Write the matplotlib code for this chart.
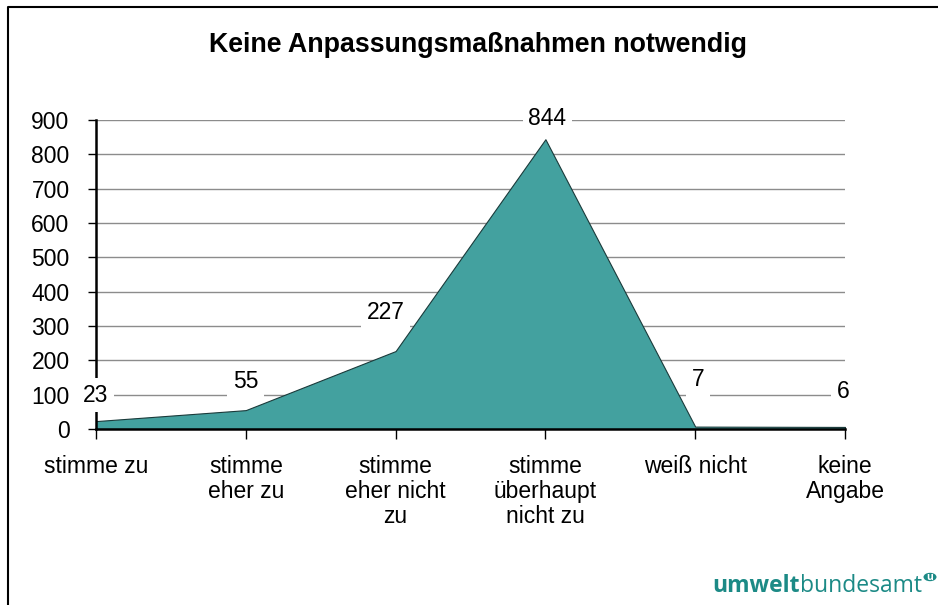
import matplotlib
matplotlib.use("Agg")
import matplotlib.pyplot as plt
from matplotlib.patches import Circle
from matplotlib.lines import Line2D

plt.rcParams['font.family'] = ['Liberation Sans', 'DejaVu Sans']

title = "Keine Anpassungsmaßnahmen notwendig"
categories = ["stimme zu", "stimme\neher zu", "stimme\neher nicht\nzu",
              "stimme\nüberhaupt\nnicht zu", "weiß nicht", "keine\nAngabe"]
values = [23, 55, 227, 844, 7, 6]
yticks = [0, 100, 200, 300, 400, 500, 600, 700, 800, 900]
# label offsets in pixels (dx, dy) relative to data point
label_offsets = [(0, 26), (0, 29), (-10, 39), (2, 21), (3, 47), (-2, 35)]

FS = 16.5
W, H = 938, 605
fig = plt.figure(figsize=(W / 100, H / 100), dpi=100)
ax = fig.add_axes([96 / W, 1 - 429 / H, (845 - 96) / W, (429 - 120) / H])

x = list(range(len(values)))
ax.fill_between(x, values, 0, color='#43a19f', edgecolor='#1a3a3a', linewidth=0.8, zorder=2)
ax.set_xlim(0, len(values) - 1)
ax.set_ylim(0, 900)
ax.set_yticks(yticks)
ax.set_yticklabels([str(v) for v in yticks], fontsize=FS)
ax.set_xticks(x)
ax.set_xticklabels(categories, fontsize=FS, linespacing=1.1, va='top')
ax.tick_params(axis='y', direction='out', length=6, width=1, pad=13)
ax.tick_params(axis='x', direction='out', length=7, width=1, pad=12)
for s in ['top', 'right']:
    ax.spines[s].set_visible(False)
for s in ['left', 'bottom']:
    ax.spines[s].set_linewidth(1.8)
    ax.spines[s].set_zorder(3)
ax.yaxis.grid(True, color='#8c8c8c', linewidth=1)
ax.set_axisbelow(True)
ax.patch.set_visible(False)

for xi, v, (dx, dy) in zip(x, values, label_offsets):
    ax.annotate(str(v), (xi, v), xytext=(dx, dy), textcoords='offset pixels',
                ha='center', va='center', fontsize=FS, zorder=5,
                bbox=dict(boxstyle='square,pad=0.25', fc='white', ec='none'),
                annotation_clip=False)

fig.text(478 / W, 1 - 45 / H, title, ha='center', va='center', fontsize=19.3, fontweight='bold')

# border (top and left only)
fig.lines.append(Line2D([8 / W, 8 / W, 1.0], [0.0, 1 - 7 / H, 1 - 7 / H],
                        transform=fig.transFigure, color='black', lw=1.5))

# logo
logo_color = '#1c8a86'
t2 = fig.text(922 / W, 1 - 592 / H, "bundesamt", ha='right', va='baseline',
              fontsize=16.5, color=logo_color, family='Open Sans')
fig.canvas.draw()
bb = t2.get_window_extent()
fig.text(bb.x0 / W, 1 - 592 / H, "umwelt", ha='right', va='baseline',
         fontsize=16.5, color=logo_color, family='Open Sans', fontweight='bold')
fig.patches.append(Circle((930 / W, 1 - 577 / H), 6.5 / W, transform=fig.transFigure,
                          fc=logo_color, ec='none'))
fig.text(930 / W, 1 - 578 / H, "u", ha='center', va='center', fontsize=7.5,
         color='white', fontweight='bold', family='Open Sans')

fig.savefig('out.png', dpi=100)
